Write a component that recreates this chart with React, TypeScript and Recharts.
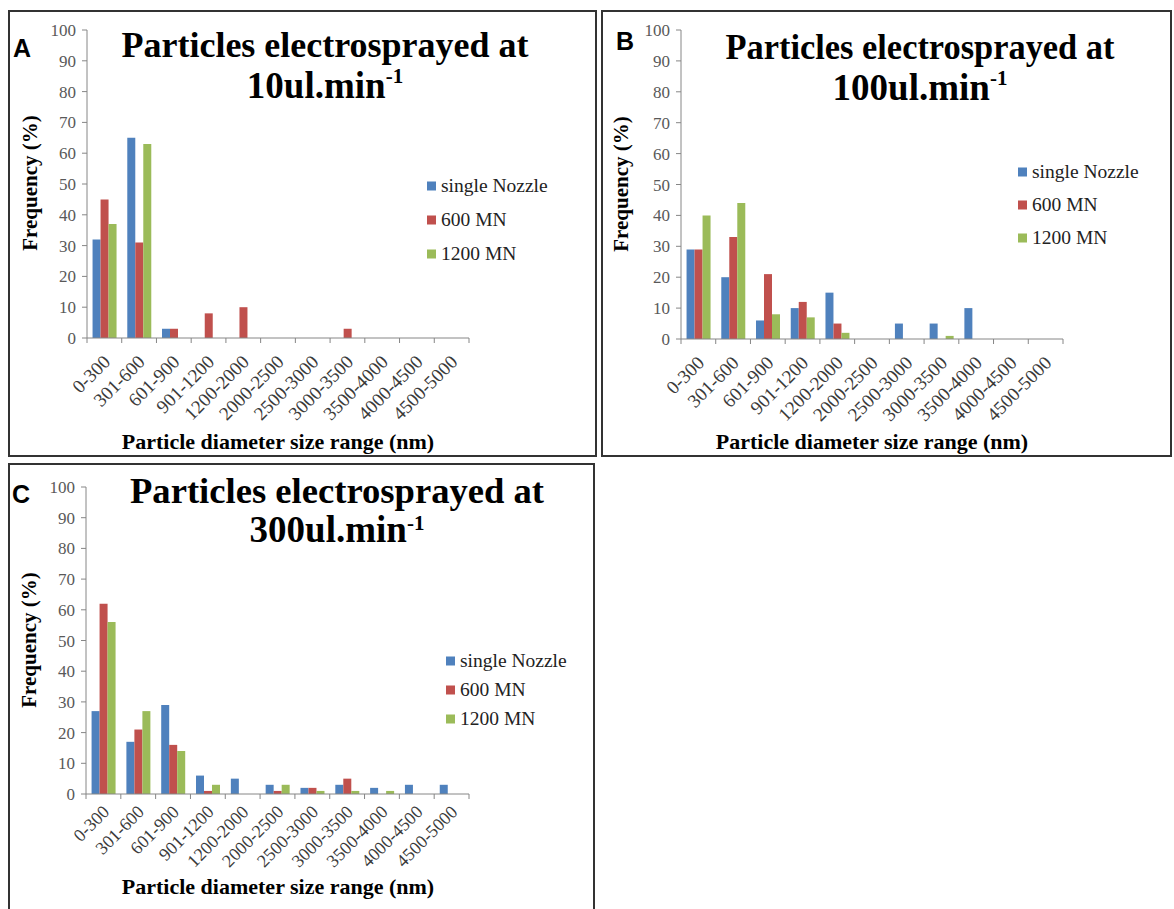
import React from 'react'
import { BarChart, Bar, XAxis, YAxis } from 'recharts'

// size ranges shared by the three panels
const categories = [
  '0-300', '301-600', '601-900', '901-1200', '1200-2000', '2000-2500',
  '2500-3000', '3000-3500', '3500-4000', '4000-4500', '4500-5000',
]
const seriesNames = ['single Nozzle', '600 MN', '1200 MN']
const seriesKeys = ['single', 'mn600', 'mn1200']
const seriesColors = ['#4F81BD', '#C0504D', '#9BBB59']
const yTicks = [0, 10, 20, 30, 40, 50, 60, 70, 80, 90, 100]

// A - 10 ul/min
const singleA = [32, 65, 3, 0, 0, 0, 0, 0, 0, 0, 0]
const mn600A = [45, 31, 3, 8, 10, 0, 0, 3, 0, 0, 0]
const mn1200A = [37, 63, 0, 0, 0, 0, 0, 0, 0, 0, 0]

// B - 100 ul/min
const singleB = [29, 20, 6, 10, 15, 0, 5, 5, 10, 0, 0]
const mn600B = [29, 33, 21, 12, 5, 0, 0, 0, 0, 0, 0]
const mn1200B = [40, 44, 8, 7, 2, 0, 0, 1, 0, 0, 0]

// C - 300 ul/min
const singleC = [27, 17, 29, 6, 5, 3, 2, 3, 2, 3, 3]
const mn600C = [62, 21, 16, 1, 0, 1, 2, 5, 0, 0, 0]
const mn1200C = [56, 27, 14, 3, 0, 3, 1, 1, 1, 0, 0]

const toRows = (a: number[], b: number[], c: number[]) =>
  categories.map((cat, i) => ({ cat, single: a[i], mn600: b[i], mn1200: c[i] }))

const AXIS = '#868686'
const SERIF = '"Liberation Serif", "Times New Roman", serif'
const SANS = '"Liberation Sans", Arial, sans-serif'

const XTick = (props: any) => {
  const { x, y, payload, index, bw, drop, size } = props
  const tx = x + 7
  const ty = y + drop
  return (
    <g>
      <line x1={x - bw / 2} y1={y} x2={x - bw / 2} y2={y + 5} stroke={AXIS} />
      {index === categories.length - 1 && (
        <line x1={x + bw / 2} y1={y} x2={x + bw / 2} y2={y + 5} stroke={AXIS} />
      )}
      <text
        x={tx}
        y={ty}
        transform={`rotate(-45 ${tx} ${ty})`}
        textAnchor="end"
        fontFamily={SERIF}
        fontSize={size}
        fill="#3a3a3a"
      >
        {payload.value}
      </text>
    </g>
  )
}

interface PanelProps {
  left: number
  top: number
  width: number
  height: number
  letter: string
  letterPos: [number, number]
  rate: string
  data: any[]
  margin: { top: number; right: number; left: number; bottom: number }
  yAxisWidth: number
  xAxisHeight: number
  tickDrop: number
  tickSize: number
  titleX: number
  titleY: [number, number]
  titleW: number
  supRise: number
  yLabel: [number, number]
  xLabel: [number, number]
  legendX: number
  legendY: number
  legendStep: number
}

const Panel: React.FC<PanelProps> = (p) => {
  const plotW = p.width - p.margin.left - p.yAxisWidth - p.margin.right
  const bw = plotW / categories.length

  return (
    <div
      style={{
        position: 'absolute',
        left: p.left,
        top: p.top,
        width: p.width,
        height: p.height,
        border: '2px solid #333',
        boxSizing: 'border-box',
        background: '#fff',
      }}
    >
      <div style={{ position: 'absolute', left: -2, top: -2 }}>
        <BarChart
          width={p.width}
          height={p.height}
          data={p.data}
          margin={p.margin}
          barGap={0}
          barCategoryGap="16%"
        >
          <XAxis
            dataKey="cat"
            interval={0}
            height={p.xAxisHeight}
            tickLine={false}
            tickSize={0}
            tickMargin={0}
            stroke={AXIS}
            tick={(t: any) => <XTick {...t} bw={bw} drop={p.tickDrop} size={p.tickSize} />}
          />
          <YAxis
            width={p.yAxisWidth}
            domain={[0, 100]}
            ticks={yTicks}
            interval={0}
            tickSize={5}
            tickMargin={6}
            stroke={AXIS}
            tick={{ fontFamily: SERIF, fontSize: 17, fill: '#595959' }}
          />
          {seriesKeys.map((k, i) => (
            <Bar key={k} dataKey={k} fill={seriesColors[i]} isAnimationActive={false} />
          ))}
        </BarChart>
      </div>

      <svg
        width={p.width}
        height={p.height}
        style={{ position: 'absolute', left: -2, top: -2, pointerEvents: 'none' }}
      >
        <text x={p.letterPos[0]} y={p.letterPos[1]} fontFamily={SANS} fontWeight="bold" fontSize={25} fill="#000">
          {p.letter}
        </text>
        <text
          x={p.titleX}
          y={p.titleY[0]}
          textAnchor="middle"
          fontFamily={SERIF}
          fontWeight="bold"
          fontSize={35}
          textLength={p.titleW}
          lengthAdjust="spacingAndGlyphs"
        >
          Particles electrosprayed at
        </text>
        <text x={p.titleX} y={p.titleY[1]} textAnchor="middle" fontFamily={SERIF} fontWeight="bold" fontSize={37}>
          {p.rate}ul.min
          <tspan fontSize={21} dy={-p.supRise}>-1</tspan>
        </text>
        <text
          transform={`translate(${p.yLabel[0]} ${p.yLabel[1]}) rotate(-90)`}
          textAnchor="middle"
          fontFamily={SERIF}
          fontWeight="bold"
          fontSize={21}
        >
          Frequency (%)
        </text>
        <text x={p.xLabel[0]} y={p.xLabel[1]} textAnchor="middle" fontFamily={SERIF} fontWeight="bold" fontSize={22}>
          Particle diameter size range (nm)
        </text>
        {seriesNames.map((name, i) => (
          <g key={name}>
            <rect
              x={p.legendX}
              y={p.legendY + i * p.legendStep - 4.5}
              width={9}
              height={9}
              fill={seriesColors[i]}
            />
            <text
              x={p.legendX + 14}
              y={p.legendY + i * p.legendStep + 6}
              fontFamily={SERIF}
              fontSize={19.5}
              fill="#222"
            >
              {name}
            </text>
          </g>
        ))}
      </svg>
    </div>
  )
}

export default function App() {
  return (
    <div style={{ position: 'absolute', left: 0, top: 0, width: 1174, height: 909, background: '#fff', overflow: 'hidden' }}>
      <Panel
        left={8}
        top={10}
        width={589}
        height={447}
        letter="A"
        letterPos={[5, 47]}
        rate="10"
        data={toRows(singleA, mn600A, mn1200A)}
        margin={{ top: 20, right: 128, left: 0, bottom: 0 }}
        yAxisWidth={79}
        xAxisHeight={119}
        tickDrop={25}
        tickSize={19}
        titleX={317}
        titleY={[47, 88]}
        titleW={407}
        supRise={15}
        yLabel={[29, 173]}
        xLabel={[270, 439]}
        legendX={419}
        legendY={176}
        legendStep={34}
      />
      <Panel
        left={601}
        top={10}
        width={571}
        height={447}
        letter="B"
        letterPos={[15, 40]}
        rate="100"
        data={toRows(singleB, mn600B, mn1200B)}
        margin={{ top: 20, right: 109, left: 0, bottom: 0 }}
        yAxisWidth={80}
        xAxisHeight={118}
        tickDrop={25}
        tickSize={19}
        titleX={319}
        titleY={[49, 90]}
        titleW={389}
        supRise={15}
        yLabel={[27, 174]}
        xLabel={[271, 439]}
        legendX={417}
        legendY={162}
        legendStep={33}
      />
      <Panel
        left={8}
        top={463}
        width={587}
        height={460}
        letter="C"
        letterPos={[4, 40]}
        rate="300"
        data={toRows(singleC, mn600C, mn1200C)}
        margin={{ top: 24, right: 126, left: 0, bottom: 14 }}
        yAxisWidth={78}
        xAxisHeight={115}
        tickDrop={19}
        tickSize={18}
        titleX={329}
        titleY={[40, 79]}
        titleW={414}
        supRise={12}
        yLabel={[28, 177]}
        xLabel={[270, 431]}
        legendX={438}
        legendY={198}
        legendStep={29}
      />
    </div>
  )
}
